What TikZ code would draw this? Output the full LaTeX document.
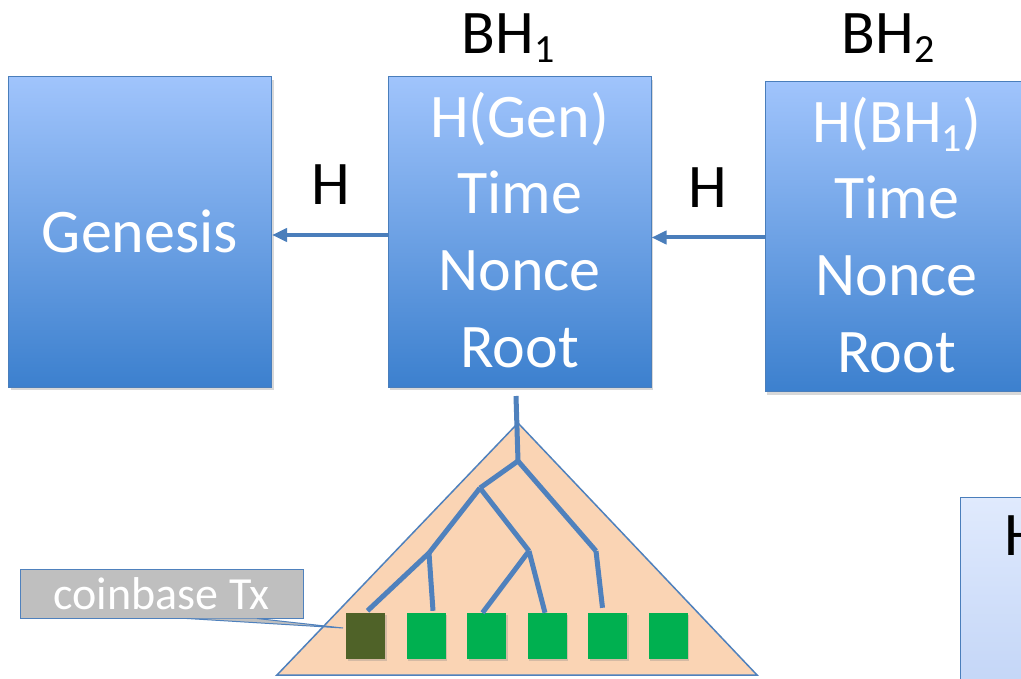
\documentclass[tikz,border=0pt]{standalone}
\usepackage{fontspec}
\setmainfont{Carlito}
\usetikzlibrary{shadows,arrows.meta,calc}
\definecolor{edgeblue}{HTML}{4A7EBB}
\definecolor{treeblue}{HTML}{4F81BD}
\definecolor{boxtop}{RGB}{160,196,252}
\definecolor{boxbot}{RGB}{60,128,206}
\definecolor{lighttop}{RGB}{224,234,253}
\definecolor{lightbot}{RGB}{196,214,247}
\definecolor{peach}{RGB}{250,212,180}
\definecolor{leafgreen}{HTML}{00B050}
\definecolor{leafdark}{HTML}{4F6228}
\definecolor{calloutgray}{RGB}{191,191,191}
\newcommand{\sbx}[1]{\raisebox{-9pt}{\fontsize{40}{40}\selectfont #1}}
\tikzset{
  blockbox/.style={draw=edgeblue, line width=1pt, top color=boxtop, bottom color=boxbot,
    minimum width=263pt, minimum height=310pt, inner sep=0pt,
    drop shadow={opacity=0.3, shadow xshift=2pt, shadow yshift=-3pt}},
  lightbox/.style={draw=edgeblue, line width=1pt, top color=lighttop, bottom color=lightbot,
    minimum width=70pt, minimum height=186pt, inner sep=0pt,
    drop shadow={opacity=0.3, shadow xshift=2pt, shadow yshift=-3pt}},
  linetext/.style={text=white, inner sep=0pt, font=\fontsize{62}{76}\selectfont},
  darktext/.style={text=black, inner sep=0pt, font=\fontsize{62}{76}\selectfont},
  arrowline/.style={draw=edgeblue, line width=4pt, -{Triangle[length=15pt,width=13pt]}},
  treeedge/.style={draw=treeblue, line width=5pt},
  leaf/.style={fill=leafgreen, minimum width=39pt, minimum height=46pt, inner sep=0pt,
    drop shadow={opacity=0.3, shadow xshift=1.5pt, shadow yshift=-2pt}},
  coinleaf/.style={leaf, fill=leafdark},
  calloutbox/.style={fill=calloutgray, draw=treeblue, line width=1pt, minimum width=283pt,
    minimum height=49pt, inner sep=0pt, text=white, font=\fontsize{46}{46}\selectfont}
}
\begin{document}
\begin{tikzpicture}[x=1pt,y=-1pt]
\useasboundingbox (0,0) rectangle (1021,679);
\clip (0,0) rectangle (1021,679);
\fill[white] (0,0) rectangle (1021,679);

% blocks
\node[blockbox] (gen) at (140,232) {};
\node[blockbox] (bh1) at (519.5,232) {};
\node[blockbox] (bh2) at (896.5,236.5) {};

\node[linetext, anchor=base] (gtxt) at (140,253) {Genesis};

\node[linetext, anchor=base] (b1l1) at (519.5,138) {H(Gen)};
\node[linetext, anchor=base] (b1l2) at (519.5,214) {Time};
\node[linetext, anchor=base] (b1l3) at (519.5,291) {Nonce};
\node[linetext, anchor=base] (b1l4) at (519.5,367) {Root};

\node[linetext, anchor=base] (b2l1) at (896.5,143) {H(BH\sbx{1})};
\node[linetext, anchor=base] (b2l2) at (896.5,219) {Time};
\node[linetext, anchor=base] (b2l3) at (896.5,296) {Nonce};
\node[linetext, anchor=base] (b2l4) at (896.5,372) {Root};

% labels above
\node[darktext, anchor=base] (lbl1) at (508,54) {BH\sbx{1}};
\node[darktext, anchor=base] (lbl2) at (888,54) {BH\sbx{2}};

% arrows
\draw[arrowline] ($(bh1.west)+(0,3)$) -- ($(gen.east)+(0,3)$);
\draw[arrowline] ($(bh2.west)+(0,1)$) -- ($(bh1.east)+(0,5.5)$);
\node[darktext, anchor=base] (h1) at (331,205) {H};
\node[darktext, anchor=base] (h2) at (708,208) {H};

% merkle tree
\draw[fill=peach, draw=treeblue, line width=1.5pt] (518,423) -- (757,675) -- (277,675) -- cycle;

\node[coinleaf] (s1) at (365.5,636) {};
\node[leaf] (s2) at (426,636) {};
\node[leaf] (s3) at (486.5,636) {};
\node[leaf] (s4) at (547,636) {};
\node[leaf] (s5) at (607.5,636) {};
\node[leaf] (s6) at (668,636) {};

\coordinate (top) at (516,396);
\coordinate (r) at (518,461);
\coordinate (a) at (480,488);
\coordinate (b) at (429,553);
\coordinate (c) at (529,551);
\coordinate (d) at (596,551);

\draw[treeedge] (top) -- (r);
\draw[treeedge] (r) -- (a);
\draw[treeedge] (r) -- (d);
\draw[treeedge] (a) -- (b);
\draw[treeedge] (a) -- (c);
\draw[treeedge] (b) -- ($(s1.north)+(2,-2)$);
\draw[treeedge] (b) -- ($(s2.north)+(7,-2)$);
\draw[treeedge] (c) -- ($(s3.north)+(-4,0)$);
\draw[treeedge] (c) -- ($(s4.north)+(-2,0)$);
\draw[treeedge] (d) -- ($(s5.north)+(-5,-5)$);

% callout
\node[calloutbox] (cb) at (161.5,593.5) {coinbase Tx};
\coordinate (tip) at (343,628);
\filldraw[fill=calloutgray, draw=treeblue, line width=1pt] ($(cb.south)+(25.5,0)$) -- (tip) -- ($(cb.south)+(95.5,0)$);

% partial next box
\node[lightbox] (bh3) at (995,590) {};
\node[darktext, anchor=base west] (h3) at (1004,555) {H};
\end{tikzpicture}
\end{document}
